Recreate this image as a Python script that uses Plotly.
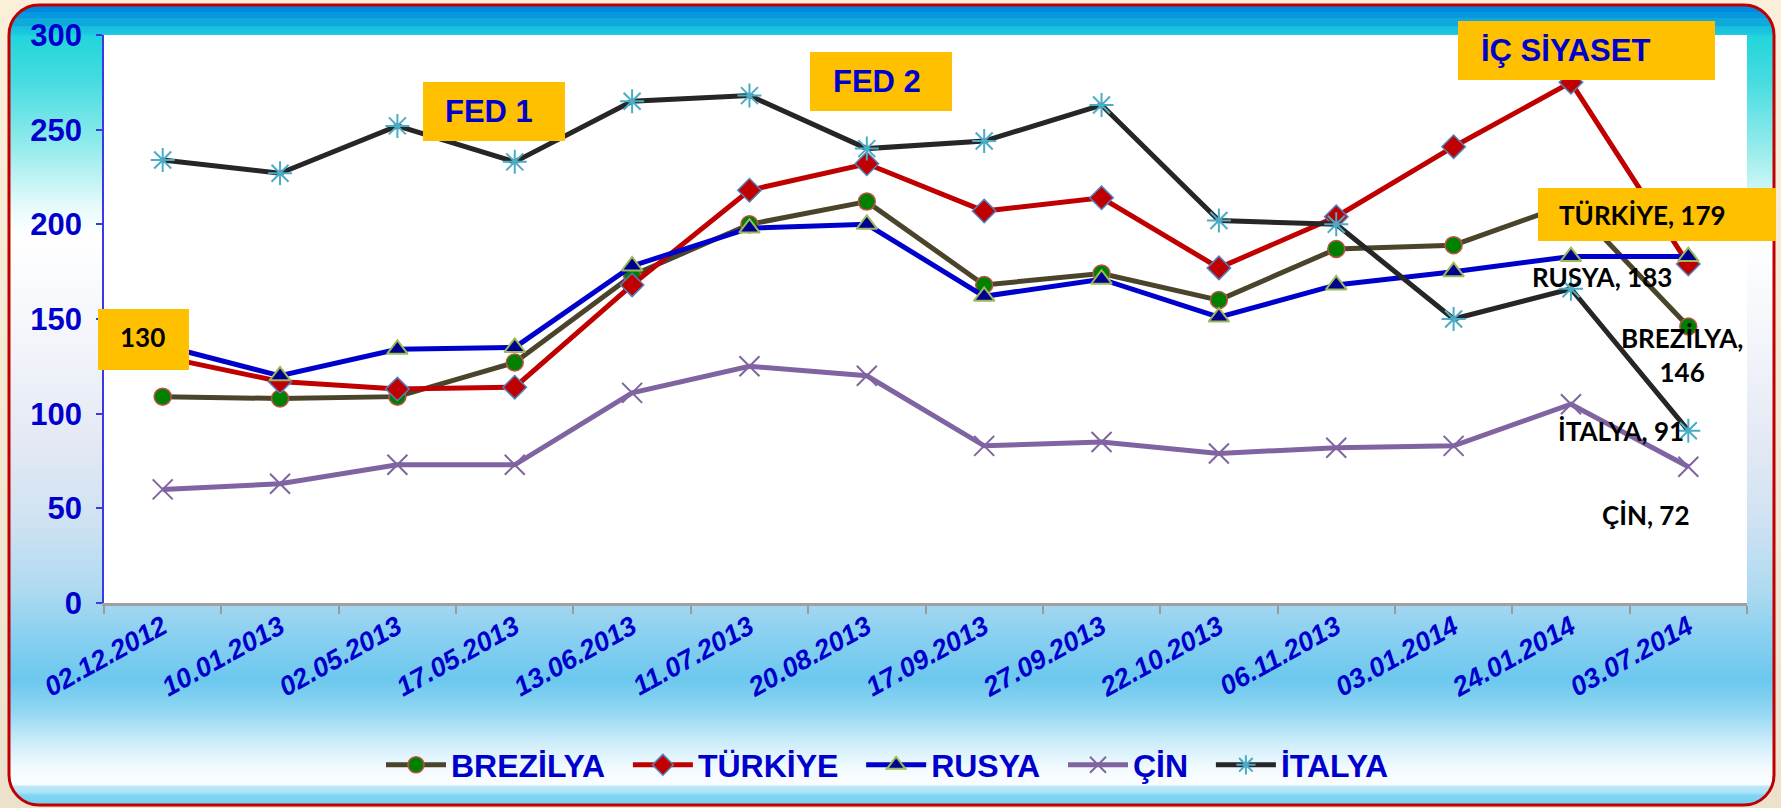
import base64
import plotly.graph_objects as go

# ---------------- data ----------------
dates = ["02.12.2012", "10.01.2013", "02.05.2013", "17.05.2013", "13.06.2013",
         "11.07.2013", "20.08.2013", "17.09.2013", "27.09.2013", "22.10.2013",
         "06.11.2013", "03.01.2014", "24.01.2014", "03.07.2014"]
brezilya = [109, 108, 109, 127, 173, 200, 212, 168, 174, 160, 187, 189, 211, 146]
turkiye = [130, 117, 113, 114, 168, 218, 232, 207, 214, 177, 204, 241, 275, 179]
rusya = [136, 120, 134, 135, 178, 198, 200, 162, 171, 151, 168, 175, 183, 183]
cin = [60, 63, 73, 73, 111, 125, 120, 83, 85, 79, 82, 83, 105, 72]
italya = [234, 227, 252, 233, 265, 268, 240, 244, 263, 202, 200, 150, 166, 91]
series_names = ["BREZİLYA", "TÜRKİYE", "RUSYA", "ÇİN", "İTALYA"]
y_ticks = [0, 50, 100, 150, 200, 250, 300]

# ---------------- geometry ----------------
W, H = 1781, 808
L, R, T, B = 104, 34, 35, 205
PW, PH = W - L - R, H - T - B


def px(x):
    return (x - L) / PW


def py(y):
    return (H - B - y) / PH


# ---------------- background (svg gradient frame) ----------------
stops = [
    (0, "#0088E0"), (12, "#0088E0"), (12.5, "#0598DE"), (18, "#0598DE"),
    (18.5, "#0EAADC"), (26, "#0EAADC"), (26.5, "#18BDDE"), (34, "#1CC8E0"),
    (36, "#22D5DC"), (80, "#45DCE0"), (150, "#98ECEC"), (205, "#E4FAFA"),
    (235, "#FFFFFF"), (330, "#F4F6FB"), (440, "#E4E9F4"), (520, "#D0E2F2"),
    (590, "#AEDAF0"), (640, "#86CFF0"), (680, "#6CC8EE"), (710, "#8FD6F3"),
    (745, "#D2EEFA"), (770, "#F4FBFE"), (785, "#FAFDFF"), (786, "#C0E9F8"),
    (793, "#A8E2F6"), (795, "#80D6F3"), (808, "#6ED0F0"),
]
stop_xml = "".join(
    f'<stop offset="{o / H:.4f}" stop-color="{c}"/>' for o, c in stops)
svg = (
    f'<svg xmlns="http://www.w3.org/2000/svg" width="{W}" height="{H}" viewBox="0 0 {W} {H}">'
    '<defs>'
    f'<linearGradient id="g" x1="0" y1="0" x2="0" y2="{H}" gradientUnits="userSpaceOnUse">{stop_xml}</linearGradient>'
    '<linearGradient id="bg" x1="0" y1="0" x2="0" y2="1">'
    '<stop offset="0" stop-color="#FBEFD9"/><stop offset="1" stop-color="#ECE2CB"/></linearGradient>'
    '</defs>'
    f'<rect x="0" y="0" width="{W}" height="{H}" fill="url(#bg)"/>'
    '<rect x="9" y="5" width="1765" height="800" rx="30" ry="30" fill="url(#g)" stroke="#C00000" stroke-width="3"/>'
    f'<rect x="{L}" y="{T}" width="{PW}" height="{PH}" fill="#FFFFFF"/>'
    '</svg>'
)
svg_uri = "data:image/svg+xml;base64," + base64.b64encode(svg.encode("utf-8")).decode()

fig = go.Figure()

LW = 5
styles = [
    dict(line=dict(color="#4A452A", width=LW),
         marker=dict(symbol="circle", size=17, color="#008000",
                     line=dict(color="#C0504D", width=1.5))),
    dict(line=dict(color="#C00000", width=LW),
         marker=dict(symbol="diamond", size=18, color="#C00000",
                     line=dict(color="#4F81BD", width=1.5))),
    dict(line=dict(color="#0000CC", width=LW),
         marker=dict(symbol="triangle-up", size=18, color="#000090",
                     line=dict(color="#9BBB59", width=2))),
    dict(line=dict(color="#8064A2", width=LW),
         marker=dict(symbol="x-thin", size=20, color="#8064A2",
                     line=dict(color="#8064A2", width=2))),
    dict(line=dict(color="#262626", width=LW),
         marker=dict(symbol="asterisk", size=20, color="#4BACC6",
                     line=dict(color="#4BACC6", width=2))),
]
GAP = "\u00a0\u00a0"
for name, vals, st in zip(series_names, [brezilya, turkiye, rusya, cin, italya], styles):
    fig.add_trace(go.Scatter(x=dates, y=vals, name=name + GAP, mode="lines+markers",
                             line=st["line"], marker=st["marker"]))

# ---------------- boxes ----------------
GOLD = "#FFC000"
boxes = [(98, 309, 189, 370), (423, 82, 565, 141), (810, 52, 952, 111),
         (1458, 21, 1715, 80), (1538, 188, 1776, 241)]
for x0, y0, x1, y1 in boxes:
    fig.add_shape(type="rect", xref="paper", yref="paper",
                  x0=px(x0), x1=px(x1), y0=py(y1), y1=py(y0),
                  fillcolor=GOLD, line=dict(width=0), layer="above")

title_font = dict(family="Liberation Sans, Arial", size=31, color="#0000CC", weight="bold")
for txt, x, y in [("FED 1", 443, 112), ("FED 2", 831, 82), ("İÇ SİYASET", 1479, 51)]:
    fig.add_annotation(text=txt, xref="paper", yref="paper", x=px(x), y=py(y),
                       xanchor="left", yanchor="middle", showarrow=False, font=title_font)

lab_font = dict(family="Lato, Liberation Sans", size=26, color="#000000", weight="bold")
last = len(dates) - 1
labels = [
    ("130", 0, turkiye[0], "left", -45, 20),
    (f"TÜRKİYE, {turkiye[last]}", last, turkiye[last], "left", -131, 49),
    (f"RUSYA, {rusya[last]}", last, rusya[last], "center", -86, -20),
    (f"BREZİLYA,<br>{brezilya[last]}", last, brezilya[last], "center", -6, -28),
    (f"İTALYA, {italya[last]}", last, italya[last], "center", -67, 0),
    (f"ÇİN, {cin[last]}", last, cin[last], "center", -42, -48),
]
for txt, i, v, xa, xs, ys in labels:
    fig.add_annotation(text=txt, x=dates[i], y=v, xref="x", yref="y",
                       xanchor=xa, yanchor="middle", xshift=xs, yshift=ys,
                       showarrow=False, font=lab_font)

fig.update_layout(
    width=W, height=H, autosize=False,
    margin=dict(l=L, r=R, t=T, b=B, pad=0),
    paper_bgcolor="#F7ECD6", plot_bgcolor="rgba(0,0,0,0)",
    images=[dict(source=svg_uri, xref="paper", yref="paper", x=px(0), y=py(0),
                 sizex=W / PW, sizey=H / PH, sizing="stretch",
                 xanchor="left", yanchor="top", layer="below")],
    showlegend=True,
    legend=dict(orientation="h", x=px(896), xanchor="center", y=py(765), yanchor="middle",
                bgcolor="rgba(0,0,0,0)", itemwidth=60, tracegroupgap=0,
                font=dict(family="Liberation Sans, Arial", size=32, color="#0000CC", weight="bold")),
    xaxis=dict(type="category", categoryorder="array", categoryarray=dates,
               range=[-0.5, len(dates) - 0.5], tickson="boundaries",
               ticks="outside", ticklen=8, tickwidth=2, tickcolor="#9A9A9A",
               showline=True, linecolor="#A0A0A0", linewidth=2.5, showgrid=False,
               tickangle=-29, ticklabelstandoff=-5,
               tickfont=dict(family="Liberation Sans, Arial", size=27, color="#0000CC",
                             weight="bold", style="italic")),
    yaxis=dict(range=[0, 300], tickvals=y_ticks, ticks="outside", ticklen=6, tickwidth=1.5,
               tickcolor="#3A3AE0", showline=True, linecolor="#3A3AE0", linewidth=1.5,
               showgrid=False, zeroline=False, ticklabelstandoff=8,
               tickfont=dict(family="Liberation Sans, Arial", size=31, color="#0000CC",
                             weight="bold")),
)

fig.write_html("out.html",
               config={"displayModeBar": False},
               post_script="document.body.style.margin='0';"
                           "document.body.style.overflow='hidden';"
                           "document.documentElement.style.overflow='hidden';")
